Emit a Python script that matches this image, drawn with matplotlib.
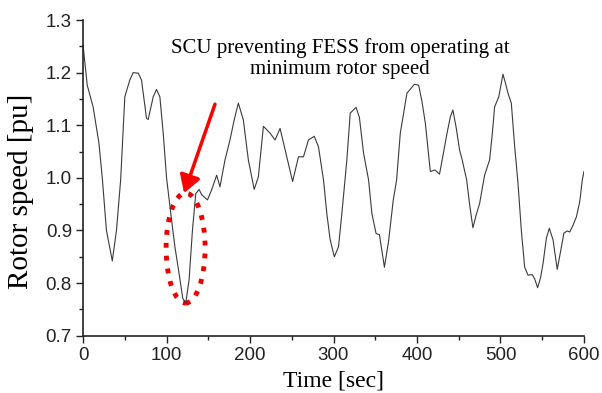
import matplotlib
matplotlib.use("Agg")
import matplotlib.pyplot as plt
from matplotlib.patches import Ellipse
from matplotlib.ticker import MultipleLocator

time_s = [0, 5, 12, 19, 23, 28, 35, 40, 45, 50, 56, 60, 66, 70, 76, 78, 84, 88, 92,
          96, 100, 106, 110, 115, 119.4, 123, 127, 131, 135, 139, 142, 149, 154, 160,
          164, 170, 176, 181, 186, 192, 198, 205, 210, 216, 224, 230, 236, 244, 251,
          258, 264, 270, 277, 282, 288, 292, 296, 301, 306, 310, 316, 320, 327, 331,
          336, 342, 346, 351, 355, 361, 366, 371.6, 375.6, 380, 388, 397, 402, 406,
          410, 416, 421.5, 427, 432, 436, 440, 443, 447, 451, 454, 459.5, 463, 467,
          471, 475, 481, 487, 490, 493, 498, 503, 506, 509, 513, 517, 521, 525, 529,
          533, 538, 541, 544.5, 548, 551, 555, 558.5, 563, 568, 572, 576, 580, 583,
          587, 591, 595, 598, 600]
rotor_speed = [1.252, 1.176, 1.135, 1.066, 1.0, 0.90, 0.842, 0.90, 0.996, 1.154, 1.186,
               1.200, 1.199, 1.186, 1.113, 1.111, 1.154, 1.168, 1.154, 1.085, 1.000,
               0.920, 0.869, 0.818, 0.771, 0.762, 0.806, 0.900, 0.970, 0.978, 0.968,
               0.958, 0.977, 1.005, 0.983, 1.034, 1.072, 1.110, 1.142, 1.110, 1.034,
               0.978, 1.002, 1.098, 1.085, 1.072, 1.094, 1.040, 0.993, 1.040, 1.040,
               1.072, 1.079, 1.059, 0.996, 0.932, 0.882, 0.850, 0.869, 0.932, 1.034,
               1.123, 1.134, 1.115, 1.047, 0.996, 0.932, 0.894, 0.892, 0.830, 0.880,
               0.958, 0.996, 1.085, 1.161, 1.178, 1.176, 1.145, 1.104, 1.012, 1.015,
               1.007, 1.050, 1.085, 1.116, 1.129, 1.095, 1.053, 1.035, 0.996, 0.950,
               0.905, 0.930, 0.951, 1.005, 1.034, 1.080, 1.135, 1.154, 1.197, 1.180,
               1.161, 1.142, 1.060, 0.990, 0.900, 0.830, 0.815, 0.816, 0.808, 0.791,
               0.810, 0.837, 0.885, 0.904, 0.882, 0.826, 0.860, 0.895, 0.899, 0.897,
               0.910, 0.926, 0.955, 0.996, 1.012]

x_ticks = [0, 100, 200, 300, 400, 500, 600]
y_ticks = [0.7, 0.8, 0.9, 1.0, 1.1, 1.2, 1.3]
annotation_text = "SCU preventing FESS from operating at\nminimum rotor speed"

fig = plt.figure(figsize=(6.02, 3.93), dpi=100)
ax = fig.add_axes([0.138, 0.146, 0.832, 0.803])

ax.plot(time_s, rotor_speed, color="#3a3a3a", lw=0.8)

ax.set_xlim(0, 600)
ax.set_ylim(0.7, 1.3)
ax.set_xticks(x_ticks)
ax.set_yticks(y_ticks)
ax.set_xticklabels([str(v) for v in x_ticks], fontfamily="Liberation Sans", fontsize=13.5)
ax.set_yticklabels([f"{v:.1f}" for v in y_ticks], fontfamily="Liberation Sans", fontsize=13.5)
ax.xaxis.set_minor_locator(MultipleLocator(50))
ax.yaxis.set_minor_locator(MultipleLocator(0.05))
ax.tick_params(which="major", direction="out", length=5, width=1.0, colors="#222222", pad=3)
ax.tick_params(which="minor", direction="out", length=3, width=1.0, colors="#222222")
for s in ["top", "right"]:
    ax.spines[s].set_visible(False)
for s in ["left", "bottom"]:
    ax.spines[s].set_linewidth(1.2)
    ax.spines[s].set_color("#222222")

ax.set_xlabel("Time [sec]", fontfamily="Liberation Serif", fontsize=17)
ax.set_ylabel("Rotor speed [pu]", fontfamily="Liberation Serif", fontsize=21)
ax.xaxis.set_label_coords(0.499, -0.112)
ax.yaxis.set_label_coords(-0.098, 0.458)

ax.text(308, 1.227, annotation_text, ha="center", va="center",
        fontfamily="Liberation Serif", fontsize=15, linespacing=1.1)

ax.annotate("", xy=(121, 0.971), xytext=(158, 1.14),
            arrowprops=dict(arrowstyle="-|>,head_length=0.5,head_width=0.3",
                            color="#ff0000", lw=2.5, mutation_scale=21,
                            shrinkA=0, shrinkB=0))

ell = Ellipse((122.8, 0.8665), width=46.7, height=0.209, fill=False,
              edgecolor="#ee0000", lw=3.5, linestyle=":")
ax.add_patch(ell)

fig.savefig("out.png", dpi=100)
